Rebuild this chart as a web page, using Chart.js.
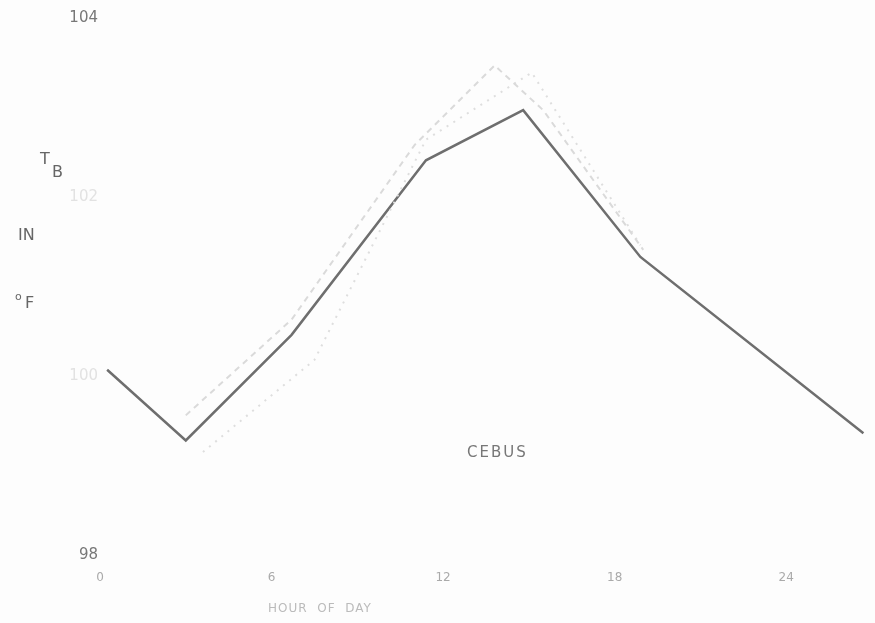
<!DOCTYPE html>
<html>
<head>
<meta charset="utf-8">
<script src="https://cdn.jsdelivr.net/npm/chart.js@4.4.1/dist/chart.umd.min.js"></script>
<style>
  html, body { margin: 0; padding: 0; background: #fdfdfd; }
  #wrap { width: 875px; height: 623px; position: relative; }
</style>
</head>
<body>
<div id="wrap"><canvas id="tempChart"></canvas></div>
<script>
/*
   Cebus body temperature over the day (scanned figure)
*/

// Main (solid) curve
const mainHours = [0.25, 3.0, 6.7, 11.4, 14.8, 18.9, 26.7];
const mainTemps = [100.07, 99.28, 100.46, 102.41, 102.97, 101.33, 99.36];

// Faint dashed curve
const dashHours = [3.0, 6.7, 11.0, 13.8, 15.5, 19.0];
const dashTemps = [99.56, 100.63, 102.58, 103.47, 102.97, 101.41];

// Faint dotted curve
const dotHours = [3.6, 7.5, 11.4, 15.1, 18.9];
const dotTemps = [99.15, 100.18, 102.64, 103.39, 101.46];

// Axis ticks
const xTicks = [0, 6, 12, 18, 24];
const yTicks = [98, 100, 102, 104];
const fadedYTicks = [100, 102];   // almost washed out on the scan

const toPoints = (xs, ys) => xs.map((x, i) => ({ x: x, y: ys[i] }));

// Free text on the figure (axis legend letters, x title, animal name)
const labelsPlugin = {
    id: 'figureText',
    afterDraw(chart) {
        const ctx = chart.ctx;
        ctx.save();
        ctx.fillStyle = '#666';
        ctx.textBaseline = 'alphabetic';
        ctx.font = '16px "DejaVu Sans"';
        ctx.fillText('T', 40, 164);
        ctx.fillText('B', 52, 177);
        ctx.fillText('IN', 18, 240);
        ctx.font = '11px "DejaVu Sans"';
        ctx.fillText('o', 15, 300);
        ctx.font = '16px "DejaVu Sans"';
        ctx.fillText('F', 25, 308);
        ctx.font = '15px "DejaVu Sans"';
        ctx.fillStyle = '#777';
        ctx.letterSpacing = '2px';
        ctx.fillText('CEBUS', 467, 457);
        ctx.font = '12px "DejaVu Sans"';
        ctx.fillStyle = '#bbb';
        ctx.letterSpacing = '1px';
        ctx.fillText('HOUR  OF  DAY', 268, 612);
        ctx.restore();
    }
};

const tempChart = new Chart(document.getElementById('tempChart'), {
    type: 'line',
    data: {
        datasets: [
            {
                label: 'dashed',
                data: toPoints(dashHours, dashTemps),
                borderColor: '#dadada',
                borderWidth: 2,
                borderDash: [6, 5],
                pointRadius: 0,
                fill: false,
                tension: 0
            },
            {
                label: 'dotted',
                data: toPoints(dotHours, dotTemps),
                borderColor: '#dedede',
                borderWidth: 2,
                borderDash: [2, 6],
                pointRadius: 0,
                fill: false,
                tension: 0
            },
            {
                label: 'Cebus',
                data: toPoints(mainHours, mainTemps),
                borderColor: '#6e6e6e',
                borderWidth: 2.5,
                pointRadius: 0,
                fill: false,
                tension: 0
            }
        ]
    },
    options: {
        responsive: true,
        maintainAspectRatio: false,
        animation: false,
        layout: {
            padding: { top: 18, right: 3, left: 0, bottom: 0 }
        },
        scales: {
            x: {
                type: 'linear',
                min: 0,
                max: 27,
                grid: { display: false },
                border: { display: false },
                afterBuildTicks: (scale) => {
                    scale.ticks = xTicks.map(v => ({ value: v }));
                },
                afterFit: (scale) => { scale.height = 68; },
                ticks: {
                    padding: 8,
                    color: '#aaa',
                    font: { size: 12, family: '"DejaVu Sans"' }
                }
            },
            y: {
                min: 98,
                max: 104,
                grid: { display: false },
                border: { display: false },
                afterBuildTicks: (scale) => {
                    scale.ticks = yTicks.map(v => ({ value: v }));
                },
                afterFit: (scale) => { scale.width = 100; },
                ticks: {
                    padding: -6,
                    color: (c) => fadedYTicks.includes(c.tick.value) ? '#e2e2e2' : '#777',
                    font: { size: 15, family: '"DejaVu Sans"' }
                }
            }
        },
        plugins: {
            legend: { display: false },
            tooltip: { enabled: false }
        }
    },
    plugins: [labelsPlugin]
});
</script>
</body>
</html>
